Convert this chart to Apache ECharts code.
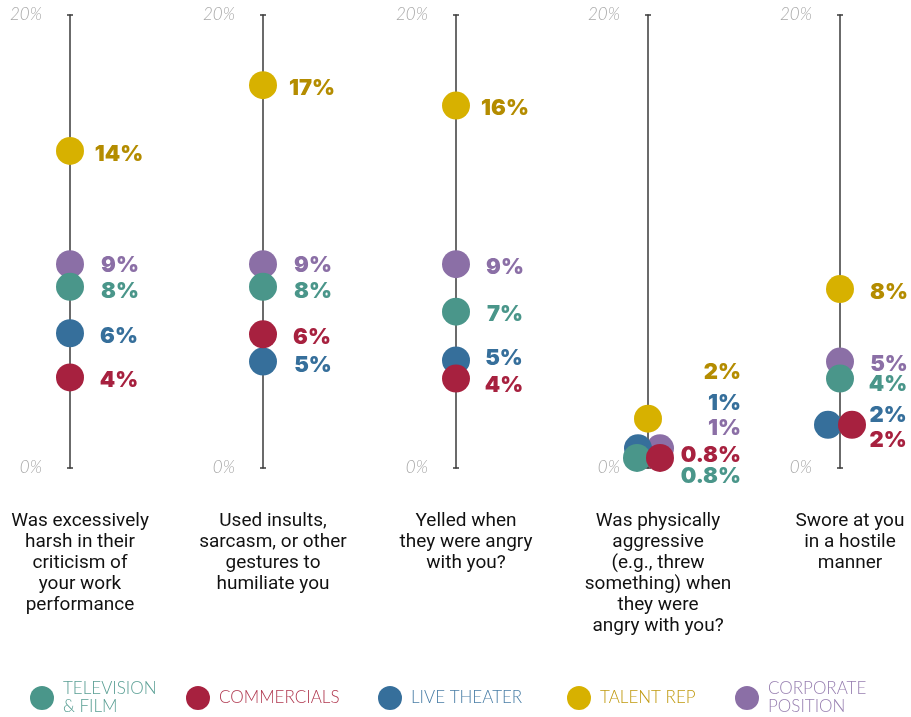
<!DOCTYPE html>
<html><head><meta charset="utf-8">
<script src="https://cdn.jsdelivr.net/npm/echarts@6/dist/echarts.min.js"></script>
<style>html,body{margin:0;padding:0;background:#fff}#c{width:911px;height:717px}</style>
</head><body><div id="c"></div>
<script>
// ---- data ----
const questions = [
  'Was excessively\nharsh in their\ncriticism of\nyour work\nperformance',
  'Used insults,\nsarcasm, or other\ngestures to\nhumiliate you',
  'Yelled when\nthey were angry\nwith you?',
  'Was physically\naggressive\n(e.g., threw\nsomething) when\nthey were\nangry with you?',
  'Swore at you\nin a hostile\nmanner'
];
const seriesNames = ['Television & Film', 'Commercials', 'Live Theater', 'Talent Rep', 'Corporate Position'];
const legendLabels = ['TELEVISION\n& FILM', 'COMMERCIALS', 'LIVE THEATER', 'TALENT REP', 'CORPORATE\nPOSITION'];
const televisionFilm    = [8, 8, 6.9, 0.8, 3.95];
const commercials       = [4, 5.9, 3.95, 0.8, 1.95];
const liveTheater       = [5.95, 4.7, 4.75, 1, 1.95];
const talentRep         = [14, 16.9, 16, 2, 7.9];
const corporatePosition = [9, 9, 9, 1, 4.7];
const yTickLabels = [0, 20];

// ---- style / layout ----
const values = [televisionFilm, commercials, liveTheater, talentRep, corporatePosition];
const dotColors  = ['#4a968a', '#a7213f', '#366f9b', '#d7b100', '#8b6fa6'];
const textColors = ['#4a968a', '#a7213f', '#366f9b', '#b48c00', '#8b6fa6'];
const legendText = ['#5a9f94', '#b0384f', '#4a7ea6', '#c09a10', '#977fb0'];
const zOrder = [5, 6, 4, 2, 3];
const axisX = [70, 263, 456, 648, 840];
const legendLeft = [30, 186, 378, 567, 735];
const gridTop = 15, gridBottom = 249;
// overrides keyed "panel-series": dot offset, label offset (relative to dot), align
const special = {
  '0-0': {lab: [50, 5]},
  '0-4': {lab: [50, 1]},
  '1-0': {lab: [50, 5]},
  '1-4': {lab: [50, 1]},
  '1-2': {lab: [50, 4]},
  '2-2': {lab: [48, -2]},
  '2-1': {lab: [48, 7]},
  '3-3': {dot: [0, -4], lab: [93, -46], align: 'right'},
  '3-2': {dot: [-10, 3], lab: [103, -45], align: 'right'},
  '3-4': {dot: [12, 3], lab: [81, -20], align: 'right'},
  '3-1': {dot: [12, 8], lab: [81, -2], align: 'right'},
  '3-0': {dot: [-11, 8], lab: [104, 19], align: 'right'},
  '4-0': {lab: [48, 6]},
  '4-2': {dot: [-12, 1], lab: [60, -9]},
  '4-1': {dot: [12, 1], lab: [36, 16]}
};
function fmt(v) { return (v < 1.2 ? v : Math.round(v)) + '%'; }

const grids = [], xAxes = [], yAxes = [], series = [];
axisX.forEach((ax, p) => {
  grids.push({left: ax, width: 20, top: gridTop, bottom: gridBottom, containLabel: false, outerBoundsMode: 'none'});
  xAxes.push({
    type: 'value', gridIndex: p, min: 0, max: 20,
    axisLine: {show: false}, axisTick: {show: false}, axisLabel: {show: false}, splitLine: {show: false},
    name: questions[p], nameLocation: 'middle', nameGap: 43,
    nameTextStyle: {fontFamily: 'Roboto', fontSize: 19, lineHeight: 21, color: '#111', align: 'center'}
  });
  yAxes.push({
    type: 'value', gridIndex: p, min: yTickLabels[0], max: yTickLabels[1], interval: 20,
    axisLine: {show: true, onZero: false, lineStyle: {color: '#3a3a3a', width: 1.5}, symbol: ['rect', 'rect'], symbolSize: [6, 1.5]},
    axisTick: {show: false}, splitLine: {show: false},
    axisLabel: {formatter: '{value}%', color: '#a9a9a9', fontStyle: 'italic', fontWeight: 300, fontFamily: 'Lato', fontSize: 17, margin: 28}
  });
  values.forEach((arr, s) => {
    const sp = special[p + '-' + s] || {};
    const item = {value: [0, arr[p]]};
    if (sp.dot) item.symbolOffset = sp.dot;
    item.label = {offset: sp.lab || [49, 3], align: sp.align || 'center'};
    series.push({
      type: 'scatter', name: seriesNames[s], xAxisIndex: p, yAxisIndex: p,
      symbol: 'circle', symbolSize: 28, clip: false, silent: true, z: zOrder[s],
      itemStyle: {color: dotColors[s], opacity: 1},
      label: {show: true, position: 'inside', formatter: q => fmt(q.value[1]),
        color: textColors[s], fontFamily: 'Inter', fontWeight: 900, fontSize: 22},
      data: [item]
    });
  });
});

const legends = seriesNames.map((n, s) => ({
  left: legendLeft[s], top: legendLabels[s].indexOf('\n') >= 0 ? 680 : 686, padding: 0,
  orient: 'horizontal', selectedMode: false,
  icon: 'circle', itemWidth: 24, itemHeight: 24,
  data: [{name: n, itemStyle: {color: dotColors[s]}}],
  formatter: () => legendLabels[s],
  textStyle: {color: legendText[s], fontFamily: 'Lato', fontWeight: 300, fontSize: 17, lineHeight: 18, padding: [0, 0, 0, 4]}
}));

const chart = echarts.init(document.getElementById('c'));
chart.setOption({
  animation: false,
  backgroundColor: '#fff',
  grid: grids, xAxis: xAxes, yAxis: yAxes, legend: legends, series: series
});
</script></body></html>
